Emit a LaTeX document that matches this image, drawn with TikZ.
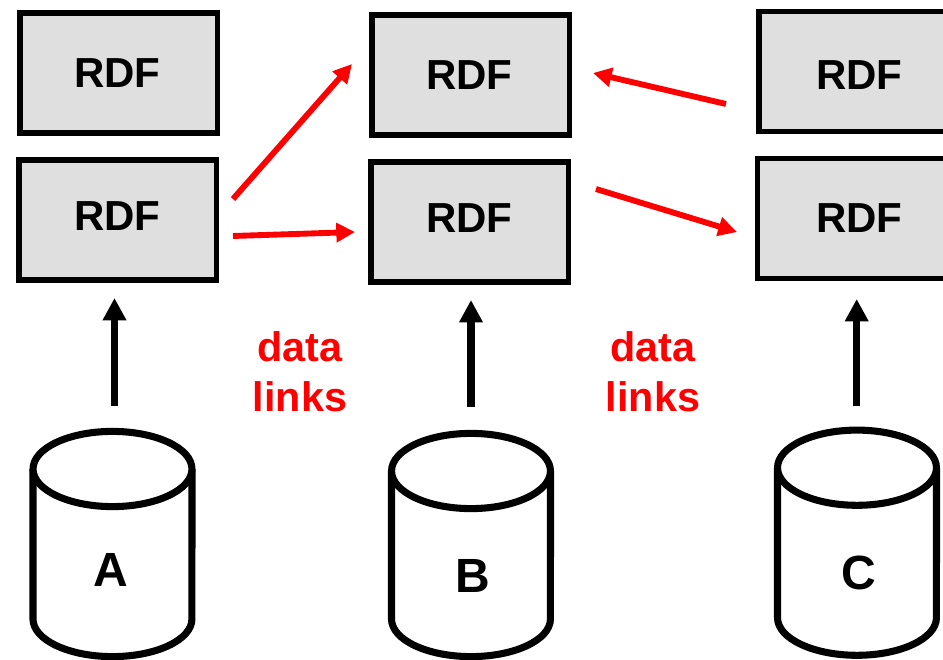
\documentclass[tikz,border=0pt]{standalone}
\usepackage{fontspec}
\setmainfont{Liberation Sans}
\usetikzlibrary{arrows.meta}
\definecolor{boxgray}{HTML}{DFDFDF}
\tikzset{
  x=0.75pt,y=-0.75pt,
  rdfbox/.style={draw=black,line width=4pt,fill=boxgray,inner sep=0pt,minimum width=148pt,minimum height=90pt},
  rdflabel/.style={font=\bfseries\fontsize{31.5}{36}\selectfont,text=black,inner sep=0pt},
  cyl/.style={draw=black,line width=5.3pt,fill=white},
  cyllabel/.style={font=\bfseries\fontsize{36}{40}\selectfont,text=black,inner sep=0pt},
  linklabel/.style={font=\bfseries\fontsize{31}{37.5}\selectfont,text=red,align=center,inner sep=0pt},
  upflow/.style={draw=black,line width=5.5pt,-{Triangle[length=16.7pt,width=16.7pt]}},
  redlink/.style={draw=red,line width=4.4pt,-{Triangle[length=14pt,width=14pt]}},
}
% centre x, lid centre y, side length
\newcommand{\drum}[3]{%
  \draw[cyl] (#1-79.5,#2) -- (#1-79.5,#2+#3) arc[start angle=180,end angle=360,x radius=59.6pt,y radius=28.2pt] -- (#1+79.5,#2);
  \draw[cyl] (#1,#2) ellipse[x radius=59.6pt,y radius=28.2pt];
}
\begin{document}
\begin{tikzpicture}
\useasboundingbox (0,0) rectangle (943,660);
\clip (0,0) rectangle (943,660);
\node[rdfbox] (a1) at (118.5,73) {};
\node[rdfbox] (a2) at (117.5,220) {};
\node[rdfbox] (b1) at (470.8,75) {};
\node[rdfbox] (b2) at (469.5,222) {};
\node[rdfbox] (c1) at (857.5,71.5) {};
\node[rdfbox] (c2) at (856,218.7) {};
\node[rdflabel] (ta1) at (117.5,73.5) {RDF};
\node[rdflabel] (ta2) at (117.5,216.5) {RDF};
\node[rdflabel] (tb1) at (469.5,75) {RDF};
\node[rdflabel] (tb2) at (469.5,218) {RDF};
\node[rdflabel] (tc1) at (859.5,75) {RDF};
\node[rdflabel] (tc2) at (859.5,218) {RDF};
\drum{112.5}{469}{150}
\drum{471}{471}{148}
\drum{857}{467.7}{150}
\node[cyllabel] (A) at (110.5,570) {A};
\node[cyllabel] (B) at (473,576) {B};
\node[cyllabel] (C) at (859,573) {C};
\node[linklabel] (l1) at (300,372) {data\\links};
\node[linklabel] (l2) at (653,372) {data\\links};
\coordinate (sa) at (114.5,405.5); \coordinate (ta) at (114.5,298);
\coordinate (sb) at (471,406.5); \coordinate (tb) at (471,300);
\coordinate (sc) at (856.7,405.7); \coordinate (tc) at (856.7,299);
\draw[upflow] (sa) -- (ta);
\draw[upflow] (sb) -- (tb);
\draw[upflow] (sc) -- (tc);
\coordinate (r1s) at (233,199); \coordinate (r1t) at (352,64);
\coordinate (r2s) at (233,236); \coordinate (r2t) at (355,232);
\coordinate (r3s) at (726,104); \coordinate (r3t) at (593,73);
\coordinate (r4s) at (596,189); \coordinate (r4t) at (737,232);
\draw[redlink] (r1s) -- (r1t);
\draw[redlink] (r2s) -- (r2t);
\draw[redlink] (r3s) -- (r3t);
\draw[redlink] (r4s) -- (r4t);
\end{tikzpicture}
\end{document}
